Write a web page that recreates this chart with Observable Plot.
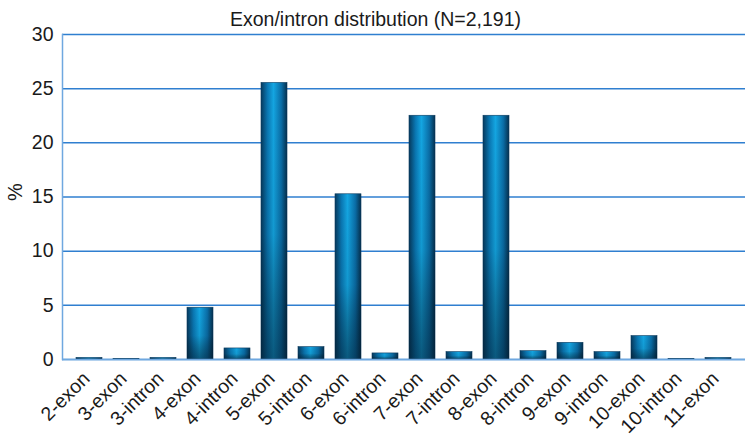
<!DOCTYPE html>
<html>
<head>
<meta charset="utf-8">
<script src="https://cdn.jsdelivr.net/npm/d3@7"></script>
<script src="https://cdn.jsdelivr.net/npm/@observablehq/plot@0.6"></script>
<style>
  html, body { margin: 0; padding: 0; background: #fff; }
  svg { font-family: "Liberation Sans", Arial, sans-serif; }
</style>
</head>
<body>
<div id="chart"></div>
<script>
const categories = ["2-exon","3-exon","3-intron","4-exon","4-intron","5-exon","5-intron","6-exon","6-intron","7-exon","7-intron","8-exon","8-intron","9-exon","9-intron","10-exon","10-intron","11-exon"];
const percents = [0.15, 0.05, 0.15, 4.78, 1.02, 25.53, 1.14, 15.25, 0.56, 22.5, 0.68, 22.5, 0.77, 1.54, 0.68, 2.16, 0.05, 0.15];
const yTicks = [0, 5, 10, 15, 20, 25, 30];
const titleText = "Exon/intron distribution (N=2,191)";

const data = categories.map((c, i) => ({category: c, value: percents[i]}));

const chart = Plot.plot({
  width: 750,
  height: 439,
  marginLeft: 62,
  marginRight: 5,
  marginTop: 34,
  marginBottom: 80,
  style: {fontFamily: "'Liberation Sans', Arial, sans-serif", fontSize: "18px", color: "#1a1a1a", background: "#fff"},
  x: {domain: categories, padding: 0.31, label: null},
  y: {domain: [0, 30], ticks: yTicks, label: null},
  marks: [
    Plot.gridY(yTicks, {stroke: "#2f7fd0", strokeOpacity: 1, strokeWidth: 1.5}),
    Plot.barY(data, {x: "category", y: "value", fill: "url(#barH)", stroke: "#0b3b5e", strokeWidth: 0.6}),
    Plot.barY(data, {x: "category", y: "value", fill: "url(#barV)"}),
    Plot.ruleY([0], {stroke: "#6fa8e0", strokeWidth: 1.5}),
    Plot.frame({anchor: "left", stroke: "#6fa8e0", strokeWidth: 1.5}),
    Plot.axisY(yTicks, {tickSize: 0, tickPadding: 9, fontSize: 19.5, fill: "#1a1a1a", label: null}),
    Plot.axisX({tickSize: 0, tickRotate: -45, tickPadding: 6, dx: -3, dy: 10, fontSize: 19.5, fill: "#1a1a1a", label: null}),
    Plot.text([titleText], {frameAnchor: "top-left", dx: 313, dy: -22, fontSize: 19.5, fill: "#1a1a1a", textAnchor: "middle"}),
    Plot.text(["%"], {frameAnchor: "left", dx: -47, dy: 4, rotate: -90, fontSize: 20, fill: "#1a1a1a"})
  ]
});

const svg = d3.select(chart);
const defs = svg.insert("defs", ":first-child");
const gh = defs.append("linearGradient").attr("id", "barH").attr("x1", "0").attr("x2", "1").attr("y1", "0").attr("y2", "0");
gh.append("stop").attr("offset", "0%").attr("stop-color", "#063a5e");
gh.append("stop").attr("offset", "25%").attr("stop-color", "#0a78b4");
gh.append("stop").attr("offset", "48%").attr("stop-color", "#14a6e2");
gh.append("stop").attr("offset", "78%").attr("stop-color", "#0a6ea8");
gh.append("stop").attr("offset", "100%").attr("stop-color", "#05314f");
const gv = defs.append("linearGradient").attr("id", "barV").attr("x1", "0").attr("x2", "0").attr("y1", "0").attr("y2", "1");
gv.append("stop").attr("offset", "0%").attr("stop-color", "#000").attr("stop-opacity", 0);
gv.append("stop").attr("offset", "55%").attr("stop-color", "#000").attr("stop-opacity", 0.08);
gv.append("stop").attr("offset", "100%").attr("stop-color", "#021a2c").attr("stop-opacity", 0.55);

document.getElementById("chart").appendChild(chart);
</script>
</body>
</html>
